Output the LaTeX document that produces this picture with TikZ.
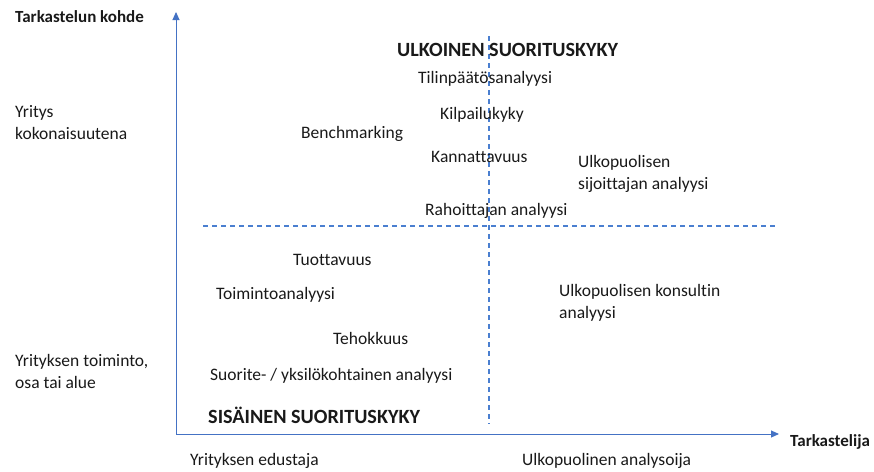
\documentclass[tikz,border=0pt]{standalone}
\usepackage{fontspec}
\setmainfont{Carlito}[Ligatures=NoCommon]
\usetikzlibrary{arrows.meta}
\definecolor{axisblue}{HTML}{4472C4}
\definecolor{dashblue}{HTML}{4A7FD0}
\begin{document}
\begin{tikzpicture}[x=1pt,y=-1pt,
  txt/.style={anchor=west,inner sep=0pt,font=\fontsize{17.5}{22}\selectfont,align=left,text=black!90},
  head/.style={anchor=west,inner sep=0pt,font=\fontsize{17}{22}\selectfont\bfseries,text=black!90},
  big/.style={anchor=west,inner sep=0pt,font=\fontsize{20.2}{24}\selectfont\bfseries,text=black!90},
  axis/.style={draw=axisblue,line width=0.9pt,-{Triangle[length=8pt,width=7pt]}},
  divider/.style={draw=dashblue,line width=1.1pt,dash pattern=on 5pt off 4pt}]
\useasboundingbox (0,0) rectangle (874,471);
% axes
\coordinate (origin) at (176,434);
\coordinate (ytop) at (176,12);
\coordinate (xend) at (779,434);
\draw[axis] (origin) -- (ytop);
\draw[axis] (origin) -- (xend);
% quadrant dividers
\coordinate (hl) at (203,226);
\coordinate (hr) at (778,226);
\coordinate (vt) at (489,36);
\coordinate (vb) at (489,424);
\draw[divider] (hl) -- (hr);
\draw[divider] (vt) -- (vb);
% axis titles and scale labels
\node[head] (ytitle) at (15,17) {Tarkastelun kohde};
\node[head] (xtitle) at (790,442) {Tarkastelija};
\node[txt] (ytop1) at (15,123) {Yritys\\kokonaisuutena};
\node[txt] (ybot1) at (15,371) {Yrityksen toiminto,\\osa tai alue};
\node[txt] (xleft) at (190,461) {Yrityksen edustaja};
\node[txt] (xright) at (522,461) {Ulkopuolinen analysoija};
% quadrant contents
\node[big] (ulk) at (397,50) {ULKOINEN SUORITUSKYKY};
\node[txt] (tilin) at (418,79) {Tilinpäätösanalyysi};
\node[txt] (kilp) at (440,115) {Kilpailukyky};
\node[txt] (bench) at (301,134) {Benchmarking};
\node[txt] (kann) at (431,157) {Kannattavuus};
\node[txt] (sijo) at (578,174) {Ulkopuolisen\\sijoittajan analyysi};
\node[txt] (rahoi) at (425,211) {Rahoittajan analyysi};
\node[txt] (tuott) at (293,260) {Tuottavuus};
\node[txt] (toimi) at (216,295) {Toimintoanalyysi};
\node[txt] (kons) at (559,303) {Ulkopuolisen konsultin\\analyysi};
\node[txt] (tehok) at (333,338) {Tehokkuus};
\node[txt] (suor) at (210,376) {Suorite- / yksilökohtainen analyysi};
\node[big] (sis) at (208,415) {SISÄINEN SUORITUSKYKY};
\end{tikzpicture}
\end{document}
